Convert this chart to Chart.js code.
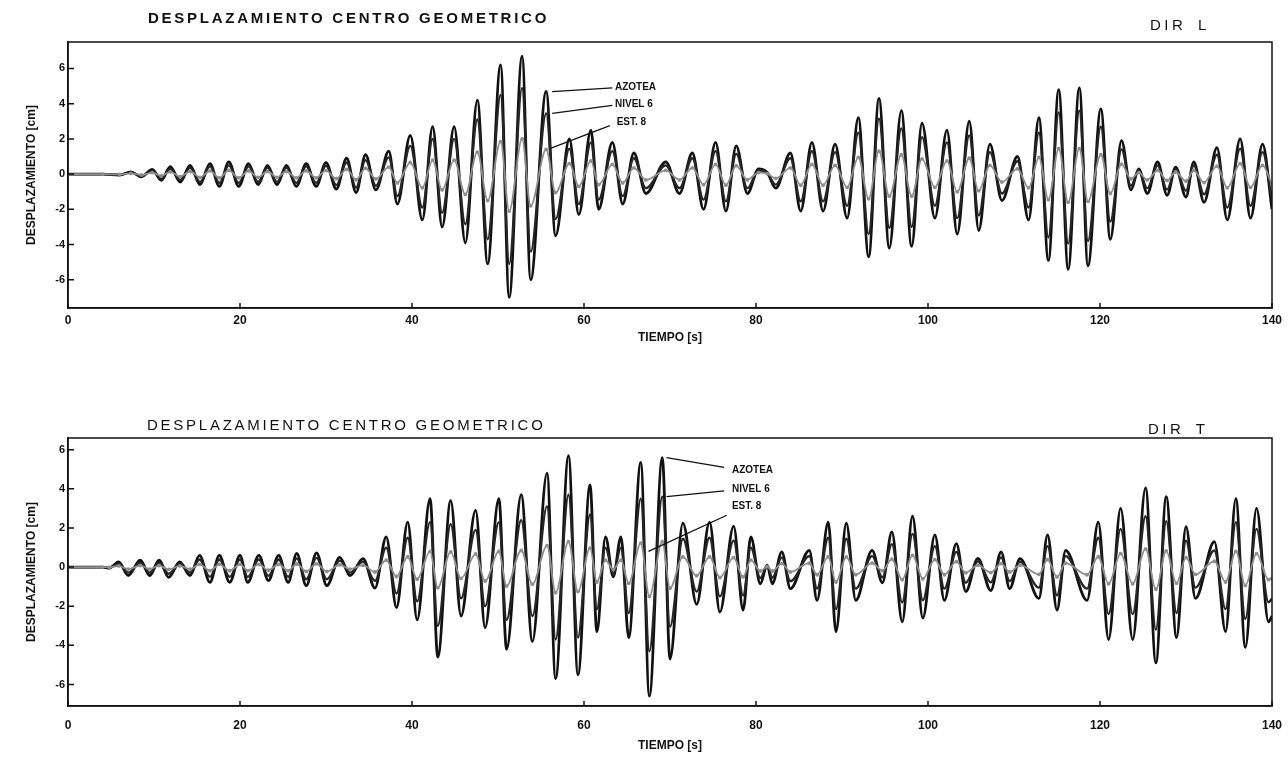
<!DOCTYPE html>
<html>
<head>
<meta charset="utf-8">
<script src="https://cdn.jsdelivr.net/npm/chart.js@4.4.1/dist/chart.umd.min.js"></script>
<style>
  body { margin: 0; background: #fff; width: 1288px; height: 757px; overflow: hidden; position: relative;
         font-family: "Liberation Sans", Arial, sans-serif; color: #111; }
  canvas { position: absolute; left: 0; }
  .titulo { position: absolute; font-size: 15px; line-height: 15px; letter-spacing: 2.75px; white-space: nowrap; z-index: 2; }
  .dir { letter-spacing: 3.5px; word-spacing: 4px; }
</style>
</head>
<body>
<canvas id="graficoL" width="1288" height="380" style="top:0"></canvas>
<canvas id="graficoT" width="1288" height="377" style="top:380px"></canvas>
<div class="titulo" style="left:148px;top:10px;font-weight:bold">DESPLAZAMIENTO CENTRO GEOMETRICO</div>
<div class="titulo dir" style="left:1150px;top:17px">DIR L</div>
<div class="titulo" style="left:147px;top:417px">DESPLAZAMIENTO CENTRO GEOMETRICO</div>
<div class="titulo dir" style="left:1148px;top:421px">DIR T</div>
<script>
const ticksY = [-6, -4, -2, 0, 2, 4, 6];

const tiempoL = [0, 4, 6, 7.3, 8.55, 9.8, 10.85, 11.9, 13.05, 14.2,
  15.35, 16.5, 17.6, 18.7, 19.85, 21.0, 22.1, 23.2, 24.3, 25.4,
  26.55, 27.7, 28.85, 30.0, 31.2, 32.4, 33.5, 34.6, 35.8, 37.3,
  38.3, 39.8, 41.2, 42.4, 43.5, 44.9, 46.2, 47.6, 48.8, 50.3,
  51.3, 52.8, 53.8, 55.6, 56.7, 58.3, 59.4, 60.8, 61.7, 63.3,
  64.5, 65.8, 67.2, 69.5, 71.1, 72.6, 73.9, 75.3, 76.5, 77.7,
  79.0, 80.3, 81.3, 82.3, 84.0, 85.2, 86.5, 87.8, 89.2, 90.6,
  91.9, 93.1, 94.3, 95.5, 96.9, 98.1, 99.3, 100.8, 102.2, 103.4,
  104.8, 105.9, 107.2, 108.6, 110.4, 111.7, 112.9, 114.0, 115.2, 116.3,
  117.6, 118.6, 120.1, 121.2, 122.5, 123.6, 124.5, 125.5, 126.7, 127.8,
  128.8, 130.0, 130.9, 132.1, 133.6, 134.8, 136.3, 137.5, 138.9, 140.0];
const azoteaL = [0, 0, -0.05, 0.13, -0.15, 0.27, -0.35, 0.42, -0.45, 0.5,
  -0.6, 0.6, -0.7, 0.7, -0.7, 0.6, -0.6, 0.5, -0.6, 0.5,
  -0.7, 0.6, -0.7, 0.65, -0.85, 0.9, -1.05, 1.1, -0.9, 1.3,
  -1.7, 2.2, -2.6, 2.7, -3.0, 2.7, -3.9, 4.2, -5.1, 6.2,
  -7.0, 6.7, -6.0, 4.7, -3.5, 2.0, -2.3, 2.5, -2.0, 1.8,
  -1.7, 1.2, -1.1, 0.7, -1.1, 1.2, -2.0, 1.8, -2.1, 1.6,
  -1.1, 0.3, 0.1, -0.8, 1.2, -2.1, 1.8, -2.1, 1.7, -2.5,
  3.2, -4.7, 4.3, -4.2, 3.6, -4.1, 2.9, -2.5, 2.5, -3.4,
  3.0, -3.2, 1.7, -1.5, 1.0, -2.6, 3.2, -4.9, 4.8, -5.4,
  4.9, -5.2, 3.7, -3.7, 1.9, -0.9, 0.3, -1.1, 0.7, -1.2,
  0.4, -1.3, 0.7, -1.6, 1.5, -2.6, 2.0, -2.5, 1.7, -2.0];
const nivel6L = [0, 0, -0.04, 0.1, -0.11, 0.2, -0.26, 0.3, -0.33, 0.36,
  -0.44, 0.44, -0.5, 0.5, -0.5, 0.44, -0.44, 0.37, -0.44, 0.37,
  -0.5, 0.44, -0.5, 0.47, -0.62, 0.66, -0.77, 0.8, -0.66, 0.95,
  -1.25, 1.6, -1.9, 2.0, -2.2, 2.0, -2.85, 3.1, -3.7, 4.5,
  -5.1, 4.9, -4.4, 3.45, -2.55, 1.45, -1.7, 1.8, -1.45, 1.3,
  -1.25, 0.9, -0.8, 0.5, -0.8, 0.9, -1.45, 1.3, -1.55, 1.15,
  -0.8, 0.22, 0.07, -0.6, 0.9, -1.55, 1.3, -1.55, 1.25, -1.8,
  2.35, -3.4, 3.15, -3.05, 2.6, -3.0, 2.1, -1.8, 1.8, -2.5,
  2.2, -2.35, 1.25, -1.1, 0.73, -1.9, 2.35, -3.6, 3.5, -3.95,
  3.6, -3.8, 2.7, -2.7, 1.4, -0.66, 0.22, -0.8, 0.5, -0.88,
  0.3, -0.95, 0.5, -1.15, 1.1, -1.9, 1.45, -1.8, 1.25, -1.45];
const est8L = [0, 0, -0.02, 0.04, -0.05, 0.08, -0.1, 0.13, -0.14, 0.15,
  -0.18, 0.18, -0.21, 0.21, -0.21, 0.18, -0.18, 0.15, -0.18, 0.15,
  -0.21, 0.18, -0.21, 0.2, -0.26, 0.27, -0.32, 0.33, -0.27, 0.4,
  -0.5, 0.66, -0.78, 0.8, -0.9, 0.8, -1.15, 1.25, -1.5, 1.85,
  -2.1, 2.0, -1.8, 1.4, -1.05, 0.6, -0.7, 0.75, -0.6, 0.55,
  -0.5, 0.36, -0.33, 0.21, -0.33, 0.36, -0.6, 0.55, -0.63, 0.48,
  -0.33, 0.09, 0.03, -0.24, 0.36, -0.63, 0.55, -0.63, 0.5, -0.75,
  0.95, -1.4, 1.3, -1.25, 1.1, -1.25, 0.87, -0.75, 0.75, -1.0,
  0.9, -0.95, 0.5, -0.45, 0.3, -0.78, 0.95, -1.45, 1.45, -1.6,
  1.45, -1.55, 1.1, -1.1, 0.57, -0.27, 0.09, -0.33, 0.21, -0.36,
  0.12, -0.4, 0.21, -0.48, 0.45, -0.78, 0.6, -0.75, 0.5, -0.6];

const tiempoT = [0, 4, 4.8, 5.9, 7.0, 8.4, 9.5, 10.6, 11.7, 13.0,
  14.2, 15.3, 16.5, 17.6, 18.8, 20.0, 20.9, 22.2, 23.3, 24.5,
  25.6, 26.6, 27.7, 28.9, 30.1, 31.6, 32.8, 34.3, 35.7, 37.0,
  38.2, 39.5, 40.6, 42.1, 43.0, 44.5, 45.7, 47.4, 48.5, 50.1,
  51.0, 52.7, 54.0, 55.7, 56.7, 58.2, 59.3, 60.7, 61.5, 62.5,
  63.4, 64.3, 65.2, 66.6, 67.6, 69.1, 70.0, 71.5, 73.1, 74.6,
  75.8, 77.4, 78.5, 79.4, 80.5, 81.3, 81.9, 83.0, 84.0, 86.2,
  87.1, 88.4, 89.3, 90.5, 91.6, 93.5, 94.7, 95.8, 97.0, 98.2,
  99.4, 100.8, 101.9, 103.3, 104.4, 105.8, 107.3, 108.5, 109.5, 110.7,
  112.9, 113.9, 115.0, 116.0, 118.5, 119.8, 121.0, 122.4, 123.8, 125.3,
  126.5, 127.7, 128.9, 130.0, 131.1, 133.3, 134.6, 135.8, 136.9, 138.2,
  139.6, 140];
const azoteaT = [0, 0, -0.05, 0.26, -0.43, 0.35, -0.43, 0.35, -0.52, 0.26,
  -0.43, 0.6, -0.78, 0.6, -0.78, 0.6, -0.78, 0.6, -0.69, 0.6,
  -0.78, 0.7, -0.95, 0.73, -0.95, 0.5, -0.43, 0.43, -1.07, 1.55,
  -2.07, 2.3, -2.7, 3.5, -4.6, 3.4, -2.5, 2.9, -3.1, 3.5,
  -4.2, 3.7, -3.8, 4.8, -5.7, 5.7, -5.5, 4.2, -3.3, 1.55,
  -0.5, 1.55, -3.6, 5.35, -6.6, 5.6, -4.7, 2.25, -1.9, 2.3,
  -2.3, 2.1, -2.2, 1.55, -0.85, 0.1, -0.85, 0.78, -1.1, 0.86,
  -1.7, 2.3, -3.3, 2.25, -1.7, 0.86, -0.8, 1.8, -2.8, 2.6,
  -2.6, 1.65, -1.7, 1.2, -1.25, 0.45, -1.2, 0.78, -1.1, 0.43,
  -1.6, 1.65, -2.2, 0.86, -1.7, 2.3, -3.7, 3.0, -3.7, 4.05,
  -4.9, 3.6, -3.6, 2.07, -1.6, 1.3, -3.3, 3.5, -4.1, 3.0,
  -2.8, -2.5];
const nivel6T = [0, 0, -0.03, 0.17, -0.28, 0.23, -0.28, 0.23, -0.34, 0.17,
  -0.28, 0.39, -0.5, 0.39, -0.5, 0.39, -0.5, 0.39, -0.45, 0.39,
  -0.5, 0.45, -0.62, 0.47, -0.62, 0.33, -0.28, 0.28, -0.7, 1.0,
  -1.35, 1.5, -1.75, 2.3, -3.0, 2.2, -1.6, 1.9, -2.0, 2.3,
  -2.7, 2.4, -2.5, 3.1, -3.7, 3.7, -3.6, 2.7, -2.15, 1.0,
  -0.33, 1.0, -2.35, 3.5, -4.3, 3.6, -3.05, 1.45, -1.25, 1.5,
  -1.5, 1.35, -1.45, 1.0, -0.55, 0.07, -0.55, 0.5, -0.72, 0.56,
  -1.1, 1.5, -2.15, 1.45, -1.1, 0.56, -0.52, 1.17, -1.8, 1.7,
  -1.7, 1.07, -1.1, 0.78, -0.8, 0.3, -0.78, 0.5, -0.72, 0.28,
  -1.05, 1.07, -1.45, 0.56, -1.1, 1.5, -2.4, 1.95, -2.4, 2.6,
  -3.2, 2.35, -2.35, 1.35, -1.05, 0.85, -2.15, 2.3, -2.65, 1.95,
  -1.8, -1.6];
const est8T = [0, 0, -0.01, 0.06, -0.1, 0.08, -0.1, 0.08, -0.12, 0.06,
  -0.1, 0.14, -0.18, 0.14, -0.18, 0.14, -0.18, 0.14, -0.16, 0.14,
  -0.18, 0.16, -0.22, 0.17, -0.22, 0.12, -0.1, 0.1, -0.25, 0.36,
  -0.48, 0.53, -0.62, 0.8, -1.05, 0.78, -0.58, 0.67, -0.71, 0.8,
  -0.97, 0.85, -0.87, 1.1, -1.3, 1.3, -1.25, 0.97, -0.76, 0.36,
  -0.12, 0.36, -0.83, 1.23, -1.5, 1.3, -1.08, 0.52, -0.44, 0.53,
  -0.53, 0.48, -0.5, 0.36, -0.2, 0.02, -0.2, 0.18, -0.25, 0.2,
  -0.39, 0.53, -0.76, 0.52, -0.39, 0.2, -0.18, 0.41, -0.64, 0.6,
  -0.6, 0.38, -0.39, 0.28, -0.29, 0.1, -0.28, 0.18, -0.25, 0.1,
  -0.37, 0.38, -0.5, 0.2, -0.39, 0.53, -0.85, 0.69, -0.85, 0.93,
  -1.13, 0.83, -0.83, 0.48, -0.37, 0.3, -0.76, 0.8, -0.94, 0.69,
  -0.64, -0.58];

const FUENTE = '"Liberation Sans", Arial, sans-serif';

// marco completo, marcas hacia dentro y rotulos con linea
const marco = {
  id: 'marco',
  afterDatasetsDraw(chart, args, opts) {
    const { ctx, chartArea: a, scales: { x, y } } = chart;
    ctx.save();
    ctx.strokeStyle = '#111';
    ctx.lineWidth = 1.5;
    ctx.strokeRect(a.left, a.top, a.right - a.left, a.bottom - a.top);
    ctx.beginPath();
    x.ticks.forEach(t => {
      const px = x.getPixelForValue(t.value);
      ctx.moveTo(px, a.bottom); ctx.lineTo(px, a.bottom - 5);
    });
    y.ticks.forEach(t => {
      const py = y.getPixelForValue(t.value);
      ctx.moveTo(a.left, py); ctx.lineTo(a.left + 6, py);
    });
    ctx.stroke();
    ctx.font = 'bold 10px ' + FUENTE;
    ctx.fillStyle = '#111';
    ctx.textBaseline = 'middle';
    ctx.lineWidth = 1.3;
    (opts.etiquetas || []).forEach(e => {
      ctx.beginPath();
      ctx.moveTo(x.getPixelForValue(e.desde[0]), y.getPixelForValue(e.desde[1]));
      ctx.lineTo(x.getPixelForValue(e.hacia[0]), y.getPixelForValue(e.hacia[1]));
      ctx.stroke();
      ctx.fillText(e.texto, x.getPixelForValue(e.pos[0]), y.getPixelForValue(e.pos[1]));
    });
    ctx.restore();
  }
};

function serie(tiempo, valores) {
  return tiempo.map((t, i) => ({ x: t, y: valores[i] }));
}

function crearGrafico(id, datos, cfg) {
  return new Chart(document.getElementById(id), {
    type: 'line',
    data: {
      datasets: [
        { label: 'AZOTEA', data: serie(datos.tiempo, datos.azotea), borderColor: '#111', borderWidth: 2.8,
          pointRadius: 0, cubicInterpolationMode: 'monotone', order: 2 },
        { label: 'NIVEL 6', data: serie(datos.tiempo, datos.nivel6), borderColor: '#262626', borderWidth: 2.3,
          pointRadius: 0, cubicInterpolationMode: 'monotone', order: 1 },
        { label: 'EST. 8', data: serie(datos.tiempo, datos.est8), borderColor: '#8e8e8e', borderWidth: 1.8,
          pointRadius: 1.9, pointBackgroundColor: '#8e8e8e', pointBorderWidth: 0,
          cubicInterpolationMode: 'monotone', order: 0 }
      ]
    },
    options: {
      responsive: false,
      animation: false,
      layout: { padding: cfg.padding },
      plugins: {
        legend: { display: false },
        tooltip: { enabled: false },
        marco: { etiquetas: cfg.etiquetas }
      },
      scales: {
        x: {
          type: 'linear', min: 0, max: 140,
          grid: { display: false, drawTicks: false },
          border: { color: '#111', width: 1.5 },
          ticks: { stepSize: 20, color: '#111', padding: cfg.padTicksX, maxRotation: 0,
                   font: { family: FUENTE, size: 12, weight: 'bold' } },
          title: { display: true, text: 'TIEMPO [s]', color: '#111',
                   font: { family: FUENTE, size: 12, weight: 'bold' }, padding: { top: 0, bottom: cfg.padTituloX } },
          afterFit: s => { s.height = 50; s.paddingLeft = 0; s.paddingRight = 0; }
        },
        y: {
          min: cfg.yMin, max: cfg.yMax,
          afterBuildTicks: s => { s.ticks = ticksY.map(v => ({ value: v })); },
          grid: { display: false, drawTicks: false },
          border: { color: '#111', width: 1.5 },
          ticks: { color: '#111', padding: 3, font: { family: FUENTE, size: 11, weight: 'bold' } },
          title: { display: true, text: 'DESPLAZAMIENTO [cm]', color: '#111',
                   font: { family: FUENTE, size: 12, weight: 'bold' }, padding: { top: 24, bottom: 0 } },
          afterFit: s => { s.width = 68; }
        }
      }
    },
    plugins: [marco]
  });
}

crearGrafico('graficoL',
  { tiempo: tiempoL, azotea: azoteaL, nivel6: nivel6L, est8: est8L },
  {
    yMin: -7.6, yMax: 7.5,
    padding: { top: 42, right: 16, bottom: 22, left: 0 },
    padTicksX: 5, padTituloX: 13,
    etiquetas: [
      { texto: 'AZOTEA', pos: [63.6, 4.95], desde: [63.3, 4.9], hacia: [56.3, 4.68] },
      { texto: 'NIVEL 6', pos: [63.6, 3.98], desde: [63.3, 3.9], hacia: [56.3, 3.45] },
      { texto: 'EST. 8', pos: [63.8, 2.95], desde: [63.0, 2.75], hacia: [56.1, 1.46] }
    ]
  });

crearGrafico('graficoT',
  { tiempo: tiempoT, azotea: azoteaT, nivel6: nivel6T, est8: est8T },
  {
    yMin: -7.1, yMax: 6.6,
    padding: { top: 58, right: 16, bottom: 1, left: 0 },
    padTicksX: 12, padTituloX: 3,
    etiquetas: [
      { texto: 'AZOTEA', pos: [77.2, 4.97], desde: [76.3, 5.1], hacia: [69.6, 5.6] },
      { texto: 'NIVEL 6', pos: [77.2, 4.0], desde: [76.3, 3.9], hacia: [69.6, 3.6] },
      { texto: 'EST. 8', pos: [77.2, 3.1], desde: [76.6, 2.65], hacia: [67.5, 0.8] }
    ]
  });
</script>
</body>
</html>
